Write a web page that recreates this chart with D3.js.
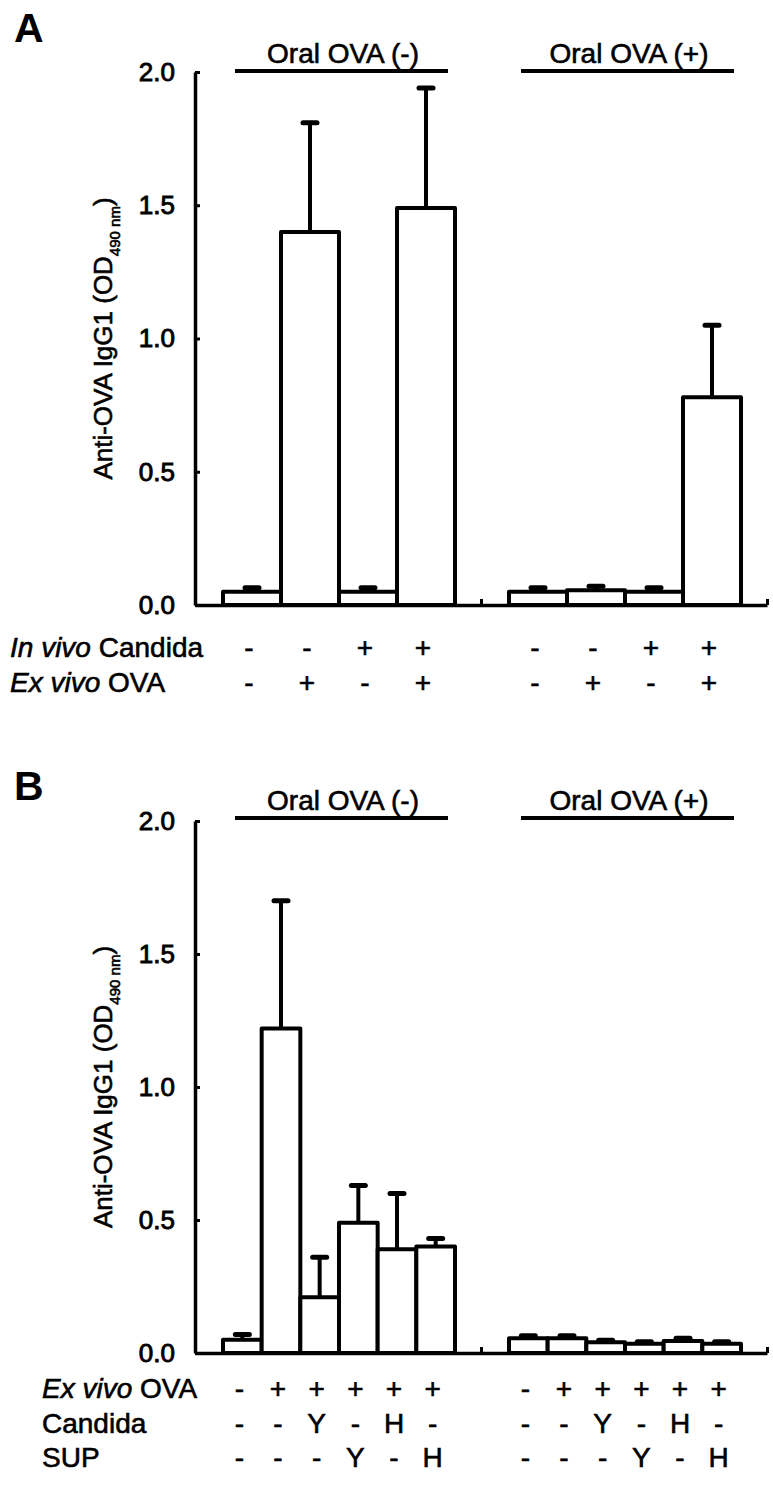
<!DOCTYPE html>
<html><head><meta charset="utf-8">
<script src="https://cdn.jsdelivr.net/npm/d3@7"></script>
<style>
body{margin:0;background:#fff;}
svg{display:block;font-family:"Liberation Sans",Arial,sans-serif;}
</style></head>
<body>
<svg id="chart" width="773" height="1486"></svg>
<script>
// ---------- data ----------
const yTicks = [0, 0.5, 1.0, 1.5, 2.0];
const groupNames = ["Oral OVA (-)", "Oral OVA (+)"];

// Panel A
const aMeanNeg = [0.05, 1.40, 0.05, 1.49];
const aErrNeg  = [0.065, 1.81, 0.065, 1.94];
const aMeanPos = [0.05, 0.055, 0.05, 0.78];
const aErrPos  = [0.065, 0.07, 0.065, 1.05];
const aRowLabels = [["In vivo", " Candida"], ["Ex vivo", " OVA"]];
const aInVivoCandida = ["-", "-", "+", "+"];
const aExVivoOVA     = ["-", "+", "-", "+"];

// Panel B
const bMeanNeg = [0.05, 1.22, 0.21, 0.49, 0.39, 0.40];
const bErrNeg  = [0.07, 1.70, 0.36, 0.63, 0.60, 0.43];
const bMeanPos = [0.055, 0.055, 0.04, 0.035, 0.045, 0.035];
const bErrPos  = [0.065, 0.065, 0.048, 0.042, 0.055, 0.042];
const bRowLabels = [["Ex vivo", " OVA"], ["", "Candida"], ["", "SUP"]];
const bExVivoOVA = ["-", "+", "+", "+", "+", "+"];
const bCandida   = ["-", "-", "Y", "-", "H", "-"];
const bSUP       = ["-", "-", "-", "Y", "-", "H"];

// ---------- drawing ----------
const svg = d3.select("#chart");
const FONT = 28;
const THICK = 0.6; // text outline to mimic the heavy print

function panel(opt){
  const g = svg.append("g");
  const y = d3.scaleLinear().domain([0, 2]).range([opt.y0, opt.y2]);
  const xg = d3.scaleBand().domain(groupNames).range([opt.xAxis, opt.xEnd]);
  const xl = d3.scaleLinear().domain([0, 2]).range([opt.xAxis, opt.xEnd]);
  const nb = opt.series[0].mean.length;
  const xb = d3.scaleBand().domain(d3.range(nb)).range([28, xg.bandwidth() - 26]);

  // panel letter
  g.append("text").attr("x", 14).attr("y", opt.letterY)
    .attr("font-size", 41).attr("font-weight", "bold").text(opt.letter);

  // y axis
  const ya = g.append("g").attr("transform", `translate(${opt.xAxis},0)`)
    .call(d3.axisLeft(y).tickValues(yTicks).tickFormat(d3.format(".1f"))
      .tickSizeInner(-5).tickSizeOuter(0).tickPadding(20));
  ya.select(".domain").attr("stroke-width", 3.5);
  ya.selectAll(".tick line").attr("stroke-width", 3);
  ya.selectAll(".tick text").attr("font-size", 26).attr("fill", "#000")
    .attr("stroke", "#000").attr("stroke-width", 0.9)
    .attr("font-family", "Liberation Sans, Arial, sans-serif");

  // x axis (group separators)
  const xa = g.append("g").attr("transform", `translate(0,${opt.y0})`)
    .call(d3.axisBottom(xl).tickValues([1, 2]).tickFormat("").tickSizeInner(-6).tickSizeOuter(0));
  xa.select(".domain").attr("stroke-width", 3.5);
  xa.selectAll(".tick line").attr("stroke-width", 3);

  // y label
  const lab = g.append("text")
    .attr("transform", `translate(${opt.labelX},${(opt.y0 + opt.y2) / 2}) rotate(-90)`)
    .attr("text-anchor", "middle").attr("font-size", 26)
    .attr("stroke", "#000").attr("stroke-width", THICK);
  lab.append("tspan").text("Anti-OVA IgG1 (OD");
  lab.append("tspan").attr("font-size", 15).attr("dy", 8).text("490 nm");
  lab.append("tspan").attr("dy", -8).text(")");

  opt.series.forEach((s, gi) => {
    const gx = xg(groupNames[gi]);
    // overline + title
    g.append("line").attr("x1", gx + 40).attr("x2", gx + 253)
      .attr("y1", opt.lineY).attr("y2", opt.lineY)
      .attr("stroke", "#000").attr("stroke-width", 4);
    g.append("text").attr("x", gx + 148).attr("y", opt.lineY - 8)
      .attr("text-anchor", "middle").attr("font-size", FONT)
      .attr("stroke", "#000").attr("stroke-width", THICK).text(groupNames[gi]);

    const bw = xb.bandwidth();
    // error bars
    s.mean.forEach((m, i) => {
      const cx = gx + xb(i) + bw / 2;
      g.append("line").attr("x1", cx).attr("x2", cx)
        .attr("y1", y(m)).attr("y2", y(s.err[i]))
        .attr("stroke", "#000").attr("stroke-width", 4);
      g.append("line").attr("x1", cx - 7).attr("x2", cx + 7)
        .attr("y1", y(s.err[i])).attr("y2", y(s.err[i]))
        .attr("stroke", "#000").attr("stroke-width", 5).attr("stroke-linecap", "round");
    });
    // bars
    g.selectAll(null).data(s.mean).enter().append("rect")
      .attr("x", (d, i) => gx + xb(i)).attr("width", bw)
      .attr("y", d => y(d)).attr("height", d => y(0) - y(d))
      .attr("fill", "#fff").attr("stroke", "#000").attr("stroke-width", 4)
      .attr("stroke-linejoin", "round");

    // condition rows
    opt.rows.forEach((row, ri) => {
      row.forEach((sym, i) => {
        const cx = gx + xb(i) + bw / 2 - 3;
        g.append("text").attr("x", cx).attr("y", opt.rowY[ri])
          .attr("dominant-baseline", "central").attr("text-anchor", "middle")
          .attr("font-size", FONT).attr("stroke", "#000").attr("stroke-width", THICK)
          .text(sym);
      });
    });
  });

  // row labels
  opt.rowLabels.forEach((lb, ri) => {
    const t = g.append("text").attr("x", opt.rowLabelX).attr("y", opt.rowY[ri])
      .attr("dominant-baseline", "central").attr("font-size", FONT)
      .attr("stroke", "#000").attr("stroke-width", THICK);
    if (lb[0]) t.append("tspan").attr("font-style", "italic").text(lb[0]);
    t.append("tspan").text(lb[1]);
  });
}

panel({
  letter: "A", letterY: 42, lineY: 71,
  xAxis: 195, xEnd: 767, y0: 605, y2: 72, labelX: 112,
  series: [{mean: aMeanNeg, err: aErrNeg}, {mean: aMeanPos, err: aErrPos}],
  rows: [aInVivoCandida, aExVivoOVA], rowY: [647, 682],
  rowLabels: aRowLabels, rowLabelX: 10
});
panel({
  letter: "B", letterY: 800, lineY: 818,
  xAxis: 195, xEnd: 767, y0: 1353, y2: 821, labelX: 112,
  series: [{mean: bMeanNeg, err: bErrNeg}, {mean: bMeanPos, err: bErrPos}],
  rows: [bExVivoOVA, bCandida, bSUP], rowY: [1388, 1423, 1457],
  rowLabels: bRowLabels, rowLabelX: 42
});
</script>
</body></html>
